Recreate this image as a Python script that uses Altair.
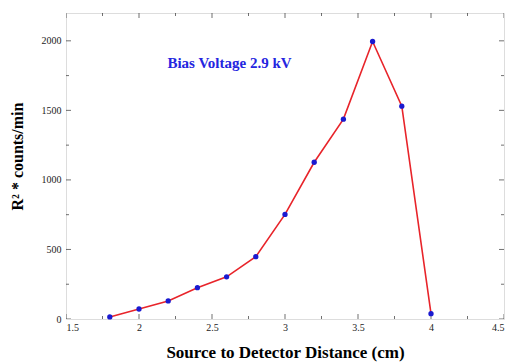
import altair as alt
import pandas as pd

# Measured count rate (scaled by R^2) versus source-detector spacing
distance_cm = [1.8, 2.0, 2.2, 2.4, 2.6, 2.8, 3.0, 3.2, 3.4, 3.6, 3.8, 4.0]
r2_counts = [15, 72, 130, 225, 303, 448, 752, 1127, 1437, 1995, 1530, 38]

x_labels = [1.5, 2.0, 2.5, 3.0, 3.5, 4.0, 4.5]
x_minor = [1.75, 2.25, 2.75, 3.25, 3.75, 4.25]
y_labels = [0, 500, 1000, 1500, 2000]
y_minor = [250, 750, 1250, 1750]

X_DOMAIN = [1.5, 4.5]
Y_DOMAIN = [0, 2200]
SERIF = "Liberation Serif"

data = pd.DataFrame({"d": distance_cm, "c": r2_counts})

x_enc = alt.X(
    "d:Q",
    scale=alt.Scale(domain=X_DOMAIN, nice=False, zero=False),
    axis=alt.Axis(
        values=x_labels, format="~g", ticks=False, domain=False, grid=False,
        title="Source to Detector Distance (cm)", titleFont=SERIF,
        titleFontSize=17, titleFontWeight="bold", titlePadding=12,
        labelFont=SERIF, labelFontSize=10, labelPadding=3, labelColor="#222",
    ),
)
y_enc = alt.Y(
    "c:Q",
    scale=alt.Scale(domain=Y_DOMAIN, nice=False),
    axis=alt.Axis(
        values=y_labels, format="d", ticks=False, domain=False, grid=False,
        title="R² * counts/min", titleFont=SERIF, titleFontSize=16,
        titleFontWeight="bold", titleY=143, titleX=-41,
        labelFont=SERIF, labelFontSize=10, labelPadding=5, labelColor="#222",
    ),
)

base = alt.Chart(data)
line = base.mark_line(color="#e8242a", strokeWidth=1.6).encode(x=x_enc, y=y_enc)
points = base.mark_circle(color="#1a1ad0", size=28, opacity=1).encode(x="d:Q", y="c:Q")

label = alt.Chart(pd.DataFrame({"t": ["Bias Voltage 2.9 kV"]})).mark_text(
    fontSize=15, fontWeight="bold", color="#2525e0", align="center"
).encode(x=alt.datum(2.62), y=alt.datum(1840), text="t:N")


def x_ticks(values, size, at):
    return alt.Chart(pd.DataFrame({"v": values})).mark_tick(
        orient="vertical", size=size, thickness=1, color="#333", clip=True
    ).encode(x="v:Q", y=alt.datum(at))


def y_ticks(values, size, at):
    return alt.Chart(pd.DataFrame({"v": values})).mark_tick(
        orient="horizontal", size=size, thickness=1, color="#333", clip=True
    ).encode(y="v:Q", x=alt.datum(at))


ticks = [
    x_ticks(x_labels, 10, Y_DOMAIN[0]), x_ticks(x_minor, 6, Y_DOMAIN[0]),
    x_ticks(x_labels, 10, Y_DOMAIN[1]), x_ticks(x_minor, 6, Y_DOMAIN[1]),
    y_ticks(y_labels, 10, X_DOMAIN[0]), y_ticks(y_minor, 6, X_DOMAIN[0]),
    y_ticks(y_labels, 10, X_DOMAIN[1]), y_ticks(y_minor, 6, X_DOMAIN[1]),
]

chart = alt.layer(line, *ticks, points, label).properties(
    width=438, height=306,
    autosize=alt.AutoSizeParams(type="none"),
    padding={"left": 66, "top": 13, "right": 4, "bottom": 44},
).configure_view(
    stroke="#222", strokeWidth=1.2
).configure_text(font=SERIF).configure(background="white", font=SERIF)

chart.save("out.html", embed_options={"renderer": "svg", "actions": False})
